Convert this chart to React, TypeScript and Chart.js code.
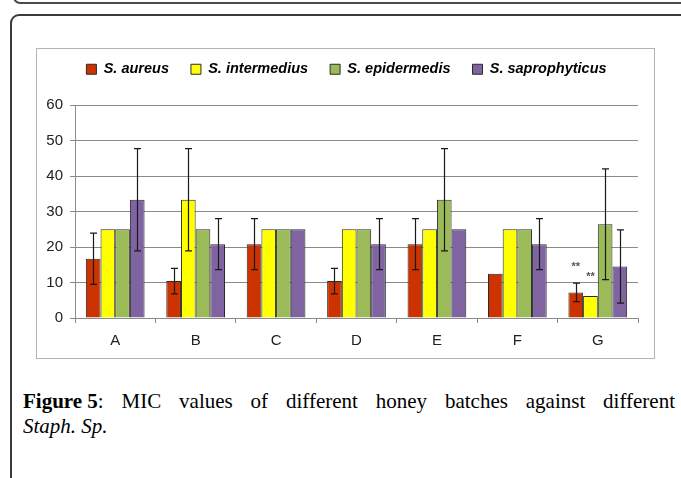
import React, { useEffect, useRef } from "react";
import { Chart, registerables } from "chart.js";

Chart.register(...registerables);

const categories = ["A", "B", "C", "D", "E", "F", "G"];
const seriesLabels = ["S. aureus", "S. intermedius", "S. epidermedis", "S. saprophyticus"];
const aureus = [16.7, 10.4, 20.8, 10.4, 20.8, 12.5, 7.2];
const intermedius = [25, 33.3, 25, 25, 25, 25, 6.2];
const epidermedis = [25, 25, 25, 25, 33.3, 25, 26.4];
const saprophyticus = [33.3, 20.8, 25, 20.8, 25, 20.8, 14.5];
const aureusErr = [7.2, 3.6, 7.2, 3.6, 7.2, null, 2.6];
const intermediusErr = [null, 14.4, null, null, null, null, null];
const epidermedisErr = [null, null, null, null, 14.4, null, 15.6];
const saprophyticusErr = [14.4, 7.2, null, 7.2, null, 7.2, 10.3];
const yTicks = [0, 10, 20, 30, 40, 50, 60];
// significance marks: [series index, category index, text, level in data units]
const marks: [number, number, string, number][] = [
  [0, 6, "**", 15.2],
  [1, 6, "**", 12.4],
];
const seriesColors = ["#CC3300", "#FFFF00", "#9BBB59", "#8064A2"];

const seriesValues = [aureus, intermedius, epidermedis, saprophyticus];
const seriesErrors = [aureusErr, intermediusErr, epidermedisErr, saprophyticusErr];

const errorBars = {
  id: "errorBars",
  afterDatasetsDraw(chart: any) {
    const ctx = chart.ctx;
    const y = chart.scales.y;
    ctx.save();
    ctx.strokeStyle = "#1a1a1a";
    ctx.lineWidth = 1.2;
    chart.data.datasets.forEach((ds: any, i: number) => {
      const meta = chart.getDatasetMeta(i);
      const errs = seriesErrors[i];
      meta.data.forEach((bar: any, j: number) => {
        const e = errs[j];
        if (e == null) return;
        const v = ds.data[j];
        const x = Math.round(bar.x) + 0.5;
        const yt = y.getPixelForValue(v + e);
        const yb = y.getPixelForValue(v - e);
        const cap = 3.5;
        ctx.beginPath();
        ctx.moveTo(x, yt);
        ctx.lineTo(x, yb);
        ctx.moveTo(x - cap, yt);
        ctx.lineTo(x + cap, yt);
        ctx.moveTo(x - cap, yb);
        ctx.lineTo(x + cap, yb);
        ctx.stroke();
      });
    });
    ctx.fillStyle = "#555";
    ctx.font = "bold 11px 'Liberation Sans'";
    ctx.textAlign = "center";
    ctx.textBaseline = "middle";
    marks.forEach(([si, ci, txt, lvl]) => {
      const bar = chart.getDatasetMeta(si).data[ci];
      ctx.fillText(txt, bar.x, y.getPixelForValue(lvl) + 3);
    });
    ctx.restore();
  },
};

const LEGEND_H = 56;
const LEGEND_SHIFT_Y = -9;
const LEGEND_SHIFT_X = 9;
const legendPlacement = {
  id: "legendPlacement",
  beforeLayout(chart: any) {
    const lg = chart.legend;
    if (lg && !lg.__patched) {
      const fit = lg.fit.bind(lg);
      lg.fit = function () {
        fit();
        this.height = LEGEND_H;
      };
      lg.__patched = true;
    }
  },
  afterLayout(chart: any) {
    if (chart.legend) {
      chart.legend.top = LEGEND_SHIFT_Y;
      chart.legend.left += LEGEND_SHIFT_X;
      chart.legend.right += LEGEND_SHIFT_X;
    }
  },
};

function BarChart() {
  const ref = useRef<HTMLCanvasElement | null>(null);
  useEffect(() => {
    if (!ref.current) return;
    const chart = new Chart(ref.current, {
      type: "bar",
      data: {
        labels: categories,
        datasets: seriesLabels.map((label, i) => ({
          label,
          data: seriesValues[i],
          backgroundColor: seriesColors[i],
          borderColor: "#2a2a2a",
          borderWidth: 1,
          categoryPercentage: 0.73,
          barPercentage: 1,
        })),
      },
      options: {
        responsive: false,
        animation: false,
        layout: { padding: { left: 0, right: 16, top: 0, bottom: 0 } },
        plugins: {
          legend: {
            display: true,
            position: "top",
            labels: {
              boxWidth: 10,
              boxHeight: 10,
              padding: 22,
              color: "#000",
              font: { family: "'Liberation Sans', Arial, sans-serif", size: 14.5, style: "italic", weight: "bold" },
            },
          },
          tooltip: { enabled: false },
        },
        scales: {
          x: {
            grid: {
              offset: true,
              drawOnChartArea: false,
              drawTicks: true,
              tickLength: 5,
              color: "#8a8a8a",
            },
            border: { color: "#8a8a8a", width: 1 },
            ticks: {
              color: "#222",
              padding: 9,
              font: { family: "'Liberation Sans', Arial, sans-serif", size: 15 },
            },
            afterFit(scale: any) {
              scale.height = 40;
            },
          },
          y: {
            min: 0,
            max: 60,
            afterBuildTicks(scale: any) {
              scale.ticks = yTicks.map((v) => ({ value: v }));
            },
            grid: {
              color: "#8a8a8a",
              drawTicks: true,
              tickLength: 5,
            },
            border: { color: "#8a8a8a", width: 1 },
            ticks: {
              color: "#222",
              padding: 7,
              font: { family: "'Liberation Sans', Arial, sans-serif", size: 15 },
            },
            afterFit(scale: any) {
              scale.width = 38;
            },
          },
        },
      },
      plugins: [errorBars, legendPlacement],
    });
    return () => chart.destroy();
  }, []);
  return <canvas ref={ref} width={617} height={309} style={{ display: "block", width: 617, height: 309 }} />;
}

export default function App() {
  return (
    <div
      style={{
        position: "fixed",
        left: 0,
        top: 0,
        width: 681,
        height: 478,
        overflow: "hidden",
        background: "#fff",
      }}
    >
      <div
        style={{
          position: "absolute",
          left: 13,
          top: -40,
          width: 720,
          height: 44,
          boxSizing: "border-box",
          border: "2px solid #4a4a4a",
          borderRadius: 7,
        }}
      />
      <div
        style={{
          position: "absolute",
          left: 10,
          top: 14,
          width: 720,
          height: 520,
          boxSizing: "border-box",
          border: "2px solid #3a3a3a",
          borderRadius: 9,
        }}
      />
      <div
        style={{
          position: "absolute",
          left: 36,
          top: 48,
          width: 619,
          height: 311,
          boxSizing: "border-box",
          border: "1px solid #b4b4b4",
        }}
      >
        <BarChart />
      </div>
      <div
        style={{
          position: "absolute",
          left: 23,
          top: 389,
          width: 652,
          fontFamily: "'Liberation Serif', 'Times New Roman', serif",
          fontSize: 21,
          lineHeight: "25px",
          color: "#000",
        }}
      >
        <div style={{ textAlign: "justify", textAlignLast: "justify", whiteSpace: "normal" }}>
          <b style={{ display: "inline-block" }}>Figure 5</b>: MIC values of different honey batches against different
        </div>
        <div>
          <i>Staph. Sp.</i>
        </div>
      </div>
    </div>
  );
}
